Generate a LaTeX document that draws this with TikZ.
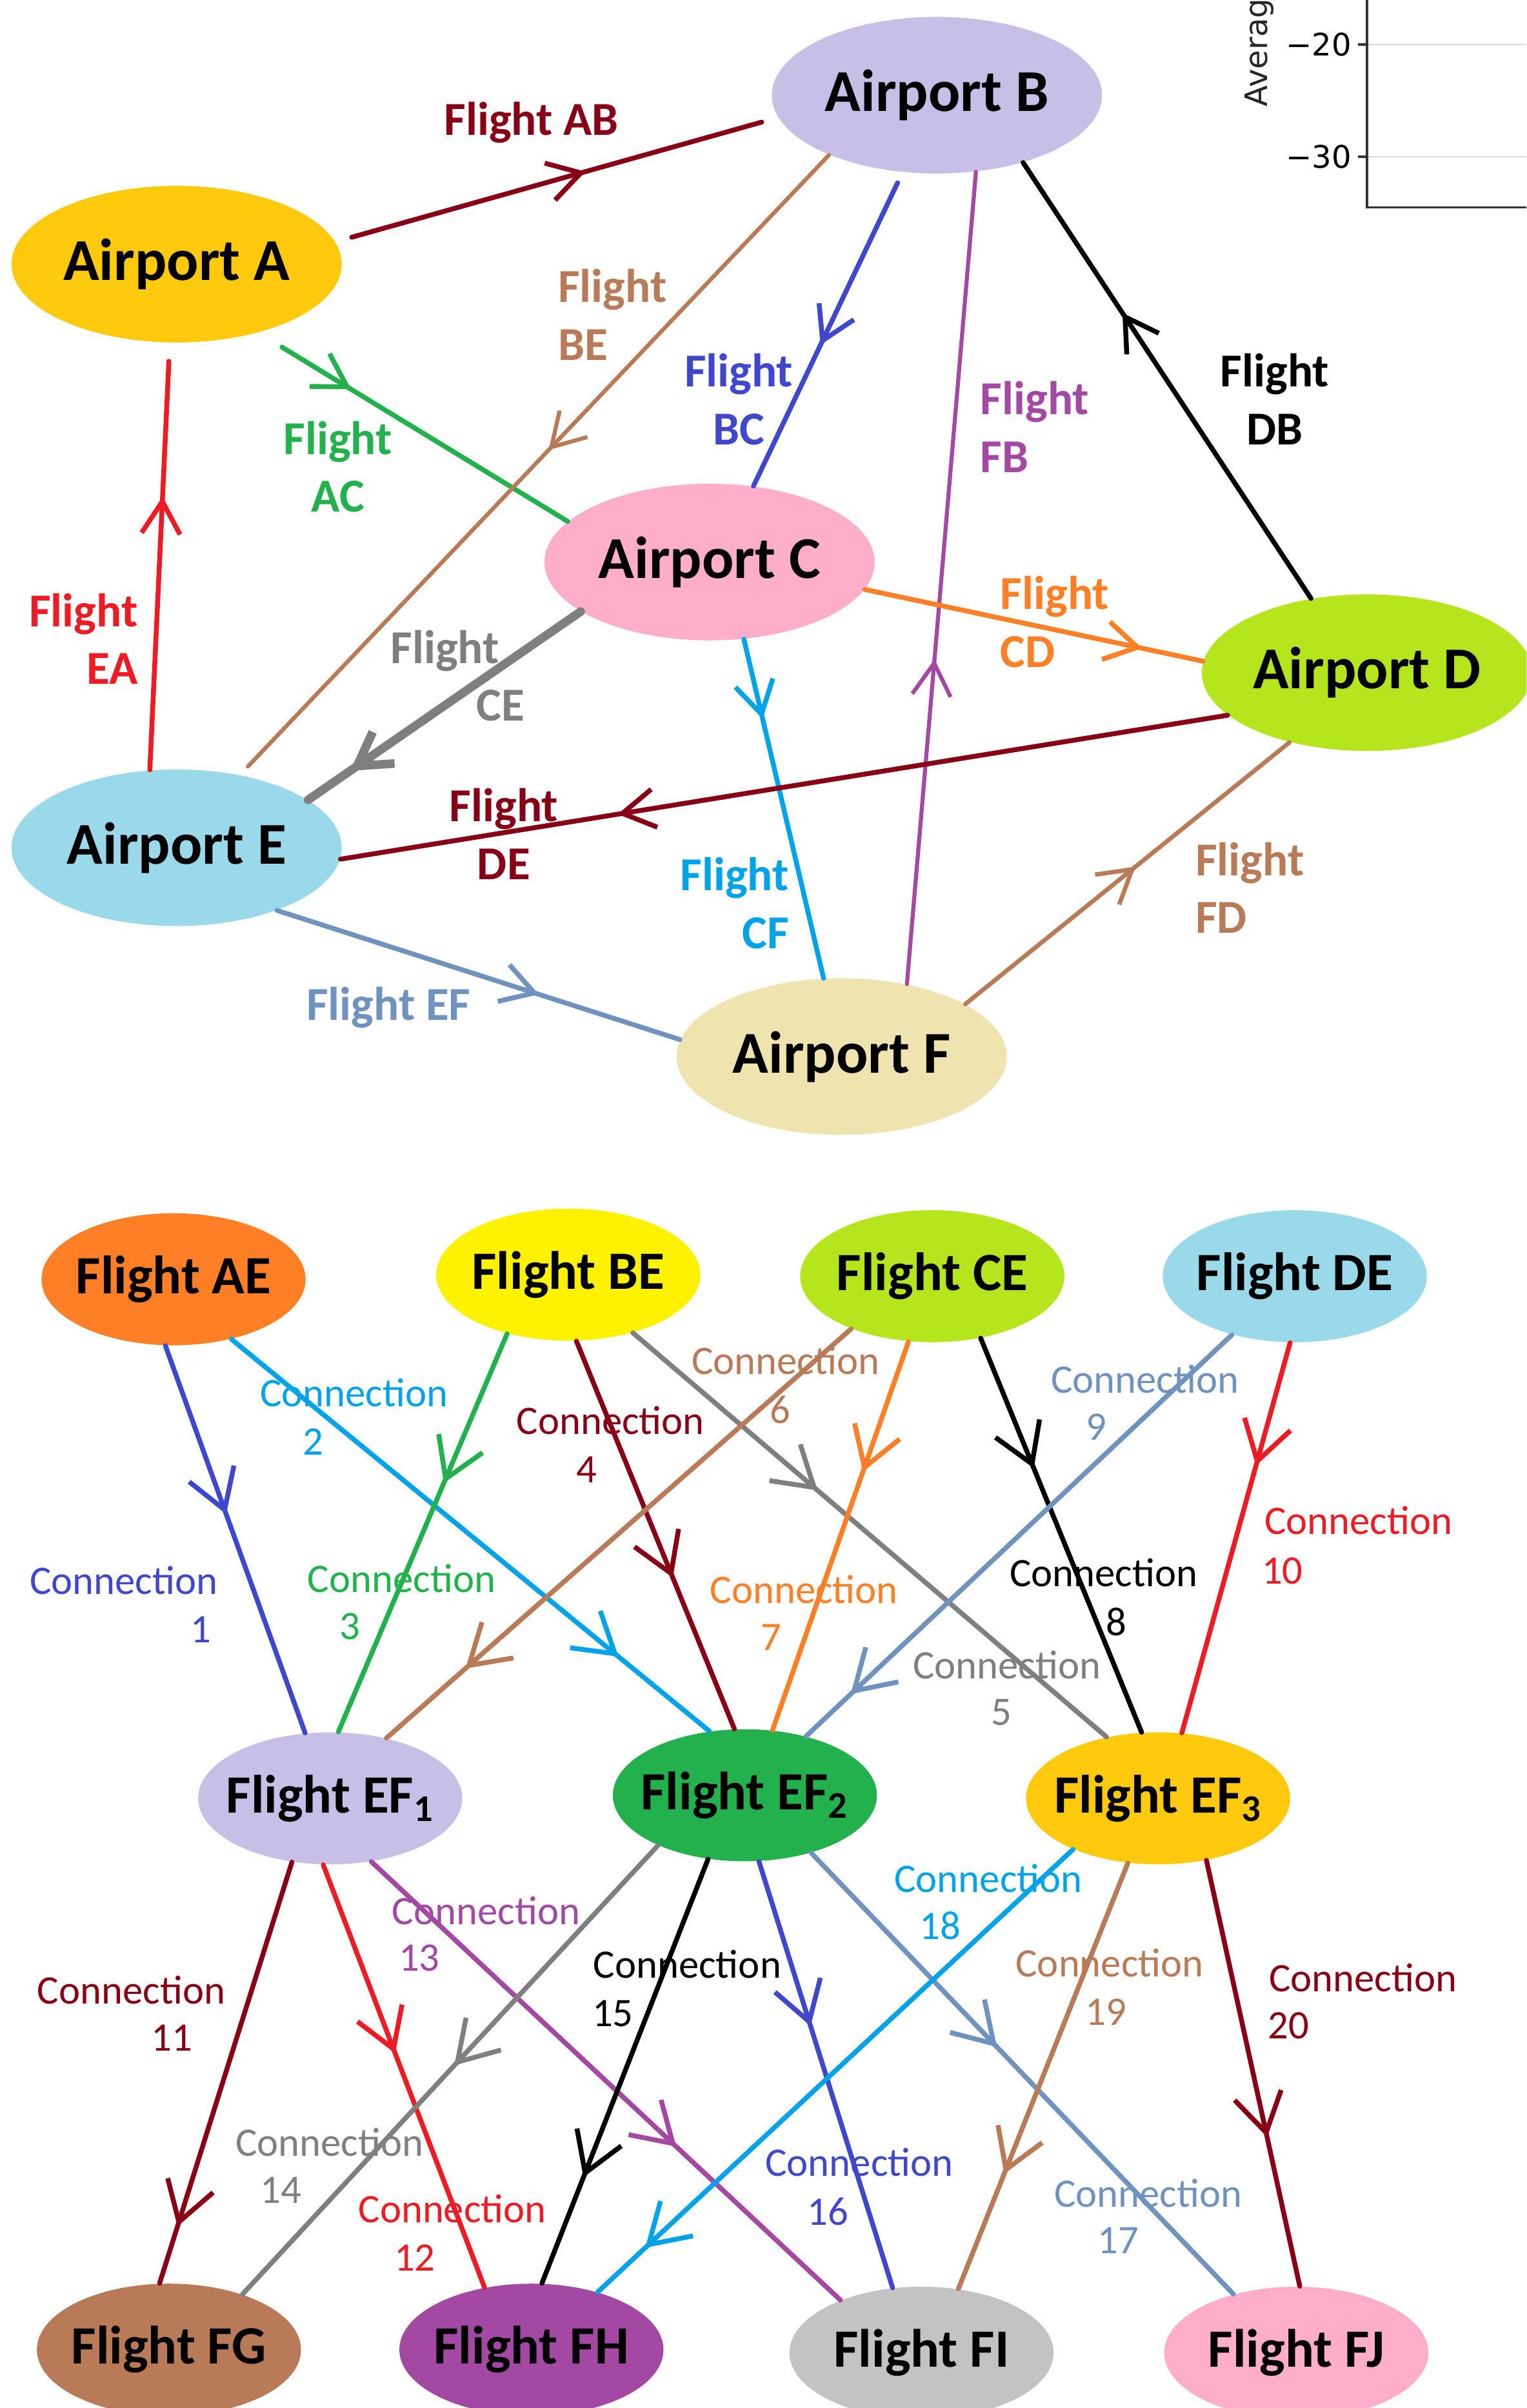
\documentclass[tikz,border=0pt]{standalone}
\usepackage{fontspec}
\setmainfont{Carlito}
\newfontfamily\plotfont{DejaVu Sans}
\usepackage{tikz}
\usetikzlibrary{shapes.geometric, arrows.meta, decorations.markings}
\definecolor{wine}{RGB}{136, 0, 21}
\definecolor{scarlet}{RGB}{237, 28, 36}
\definecolor{tangerine}{RGB}{255, 127, 39}
\definecolor{goldish}{RGB}{255, 201, 14}
\definecolor{canary}{RGB}{255, 242, 0}
\definecolor{leaf}{RGB}{34, 177, 76}
\definecolor{chartreuse}{RGB}{181, 230, 29}
\definecolor{azure}{RGB}{0, 162, 232}
\definecolor{aqua}{RGB}{153, 217, 234}
\definecolor{indigo}{RGB}{63, 72, 204}
\definecolor{steel}{RGB}{112, 146, 190}
\definecolor{plum}{RGB}{163, 73, 164}
\definecolor{lavender}{RGB}{200, 191, 231}
\definecolor{tan}{RGB}{185, 122, 87}
\definecolor{rose}{RGB}{255, 174, 201}
\definecolor{cream}{RGB}{239, 228, 176}
\definecolor{slate}{RGB}{127, 127, 127}
\definecolor{silver}{RGB}{195, 195, 195}

\tikzset{
    port/.style={ellipse, minimum width=4.3cm, minimum height=2.04cm,
                 inner xsep=-0.5cm, inner ysep=0pt,
                 font=\fontsize{22}{26}\selectfont\bfseries},
    fl/.style={ellipse, minimum width=3.44cm, minimum height=1.72cm,
               inner xsep=-0.5cm, inner ysep=0pt,
               font=\fontsize{20}{24}\selectfont\bfseries},
    flab/.style={inner sep=0pt, font=\fontsize{17.5}{21.4}\selectfont\bfseries},
    clab/.style={inner sep=0pt, font=\fontsize{15}{18}\selectfont},
    route/.style={line width=1.8pt, line cap=round},
    croute/.style={line width=1.8pt, line cap=round},
    midtip/.style={postaction={decorate}, decoration={markings,
        mark=at position #1 with {\arrow{Straight Barb[length=0.42cm, width=0.5cm]}}}},
    ctip/.style={postaction={decorate}, decoration={markings,
        mark=at position #1 with {\arrow{Straight Barb[length=0.5cm, width=0.62cm]}}}},
}

\newcommand{\connlabel}[5]{%
    \node[clab, #2, anchor=west] (#1) at (#3) {Connection};
    \node[clab, #2] (#1n) at (#4) {#5};}

\begin{document}
\begin{tikzpicture}[x=0.02cm, y=-0.02cm]
    \clip (0,0) rectangle (994,1568);

    % plot fragment at top right
    \draw[black!15, line width=0.6pt] (890,29) -- (994,29) (890,102) -- (994,102);
    \draw[black!80, line width=0.8pt] (890,0) -- (890,135) -- (994,135);
    \draw[black!80, line width=0.8pt] (884,29) -- (890,29) (884,102) -- (890,102);
    \node[font=\plotfont\fontsize{11.5}{14}\selectfont, anchor=east, inner sep=1pt] (t20) at (882,29) {−20};
    \node[font=\plotfont\fontsize{11.5}{14}\selectfont, anchor=east, inner sep=1pt] (t30) at (882,102) {−30};
    \node[font=\plotfont\fontsize{11.5}{14}\selectfont, rotate=90, anchor=base west, inner sep=0pt, black!85] (ylab) at (825,70) {Average};

    % airports
    \node[port, fill=goldish] (A) at (115,172) {Airport A};
    \node[port, fill=lavender] (B) at (610,62) {Airport B};
    \node[port, fill=rose] (C) at (462,366) {Airport C};
    \node[port, fill=chartreuse] (D) at (890,438) {Airport D};
    \node[port, fill=aqua] (E) at (115,552) {Airport E};
    \node[port, fill=cream] (F) at (548,688) {Airport F};

    % flight labels
    \node[flab, wine] (lAB) at (346,80) {Flight AB};
    \node[flab, leaf, align=center] (lAC) at (220,304) {Flight\\AC};
    \node[flab, tan, align=left, anchor=west] (lBE) at (363,205) {Flight\\BE};
    \node[flab, indigo, align=center] (lBC) at (481,260) {Flight\\BC};
    \node[flab, plum, align=left, anchor=west] (lFB) at (638,278) {Flight\\FB};
    \node[flab, black, align=center] (lDB) at (830,260) {Flight\\DB};
    \node[flab, tangerine, align=left, anchor=west] (lCD) at (651,405) {Flight\\CD};
    \node[flab, slate, align=left, anchor=west] (lCE) at (254,440) {Flight\\\hspace*{1.12cm}CE};
    \node[flab, azure, align=right, anchor=east] (lCF) at (514,588) {Flight\\CF};
    \node[flab, wine, align=center] (lDE) at (328,543) {Flight\\DE};
    \node[flab, scarlet, align=right, anchor=east] (lEA) at (90,416) {Flight\\EA};
    \node[flab, steel] (lEF) at (253,656) {Flight EF};
    \node[flab, tan, align=left, anchor=west] (lFD) at (778,578) {Flight\\FD};

    % flights
    \draw[route, wine, shorten <=0.22cm, shorten >=0.22cm, midtip=0.565] (A.8) -- (B.188);
    \draw[route, leaf, shorten <=0.36cm, midtip=0.3] (A.-40) -- (C.164);
    \draw[route, tan, line width=1.5pt, shorten >=0.15cm, midtip=0.476] (B.209) -- (E.49.5);
    \draw[route, indigo, shorten <=0.15cm, midtip=0.55] (B.-114) -- (C.60);
    \draw[route, plum, line width=1.5pt, midtip=0.40] (F.48) -- (B.-63);
    \draw[route, black, midtip=0.655] (D.127) -- (B.-38);
    \draw[route, tangerine, midtip=0.82] (C.-10) -- (D.176);
    \draw[route, slate, line width=3.2pt, midtip=0.846] (C.-159) -- (E.20);
    \draw[route, azure, midtip=0.235] (C.-66) -- (F.103.5);
    \draw[route, wine, midtip=0.6875] (D.-163) -- (E.-4);
    \draw[route, scarlet, shorten >=0.24cm, midtip=0.64] (E.109) -- (A.-95);
    \draw[route, steel, midtip=0.65] (E.-32) -- (F.174);
    \draw[route, tan, line width=1.6pt, midtip=0.525] (F.23) -- (D.-138);

    % flight nodes
    \node[fl, fill=tangerine] (AE) at (113,833) {Flight AE};
    \node[fl, fill=canary] (BE) at (370,830) {Flight BE};
    \node[fl, fill=chartreuse] (CE) at (607,831) {Flight CE};
    \node[fl, fill=aqua] (DE) at (843,831) {Flight DE};
    \node[fl, fill=lavender] (EF1) at (215,1171) {Flight EF\textsubscript{1}};
    \node[fl, fill=leaf] (EF2) at (485,1169) {Flight EF\textsubscript{2}};
    \node[fl, fill=goldish] (EF3) at (754,1171) {Flight EF\textsubscript{3}};
    \node[fl, fill=tan] (FG) at (110,1530) {Flight FG};
    \node[fl, fill=plum] (FH) at (346,1530) {Flight FH};
    \node[fl, fill=silver] (FI) at (600,1532) {Flight FI};
    \node[fl, fill=rose] (FJ) at (844,1532) {Flight FJ};

    % connection labels
    \connlabel{c1}{indigo}{19,1029}{131,1061}{1}
    \connlabel{c2}{azure}{169,907}{204,939}{2}
    \connlabel{c3}{leaf}{200,1028}{228,1059}{3}
    \connlabel{c4}{wine}{336,925}{382,957}{4}
    \connlabel{c5}{slate}{594,1084}{652,1115}{5}
    \connlabel{c6}{tan}{450,886}{508,918}{6}
    \connlabel{c7}{tangerine}{462,1035}{502,1066}{7}
    \connlabel{c8}{black}{657,1024}{727,1056}{8}
    \connlabel{c9}{steel}{684,898}{714,929}{9}
    \connlabel{c10}{scarlet}{823,990}{835,1023}{10}
    \connlabel{c11}{wine}{24,1296}{112,1327}{11}
    \connlabel{c12}{scarlet}{233,1438}{270,1470}{12}
    \connlabel{c13}{plum}{255,1244}{273,1275}{13}
    \connlabel{c14}{slate}{153,1395}{183,1426}{14}
    \connlabel{c15}{black}{386,1279}{399,1311}{15}
    \connlabel{c16}{indigo}{498,1408}{539,1440}{16}
    \connlabel{c17}{steel}{686,1428}{728,1459}{17}
    \connlabel{c18}{azure}{582,1223}{612,1254}{18}
    \connlabel{c19}{tan}{661,1278}{720,1310}{19}
    \connlabel{c20}{wine}{826,1288}{839,1319}{20}

    % connections
    \draw[croute, indigo, ctip=0.435] (AE.-97) -- (EF1.111);
    \draw[croute, azure, ctip=0.81] (AE.-46.5) -- (EF2.119);
    \draw[croute, leaf, ctip=0.375] (BE.-136) -- (EF1.83);
    \draw[croute, wine, ctip=0.61] (BE.-83) -- (EF2.99);
    \draw[croute, slate, ctip=0.39] (BE.-42) -- (EF3.130);
    \draw[croute, tan, ctip=0.83] (CE.-147) -- (EF1.47);
    \draw[croute, tangerine, ctip=0.335] (CE.-110) -- (EF2.67);
    \draw[croute, black, ctip=0.33] (CE.-52) -- (EF3.104);
    \draw[croute, steel, ctip=0.895] (DE.-137) -- (EF2.44);
    \draw[croute, scarlet, ctip=0.315] (DE.-94) -- (EF3.70);
    \draw[croute, wine, ctip=0.865] (EF1.-121) -- (FG.98);
    \draw[croute, scarlet, ctip=0.446] (EF1.-96) -- (FH.127);
    \draw[croute, plum, ctip=0.65] (EF1.-57) -- (FI.147);
    \draw[croute, slate, ctip=0.49] (EF2.-150) -- (FG.37.5);
    \draw[croute, black, ctip=0.75] (EF2.-120) -- (FH.81);
    \draw[croute, indigo, ctip=0.386] (EF2.-78) -- (FI.114);
    \draw[croute, steel, ctip=0.44] (EF2.-41) -- (FJ.137);
    \draw[croute, azure, ctip=0.90] (EF3.-149) -- (FH.41);
    \draw[croute, tan, ctip=0.73] (EF3.-115) -- (FI.60);
    \draw[croute, wine, ctip=0.65] (EF3.-52) -- (FJ.87);
\end{tikzpicture}
\end{document}
